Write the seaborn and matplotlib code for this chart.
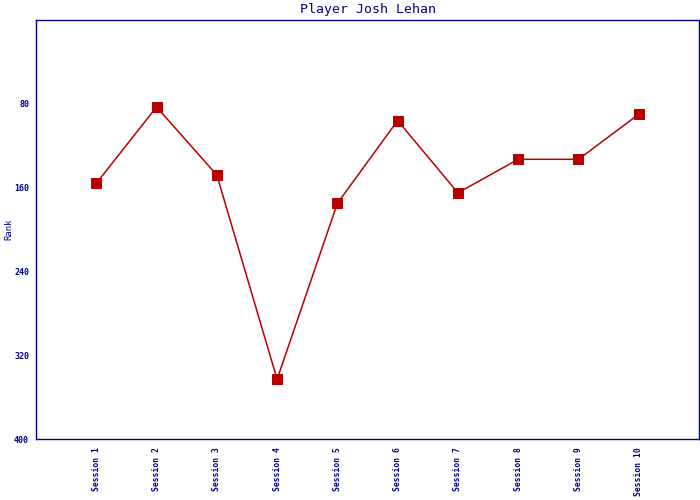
import matplotlib
matplotlib.use("Agg")
import matplotlib.pyplot as plt
import seaborn as sns
import pandas as pd

sessions = ["Session 1", "Session 2", "Session 3", "Session 4", "Session 5",
            "Session 6", "Session 7", "Session 8", "Session 9", "Session 10"]
ranks = [156, 83, 148, 343, 175, 96, 165, 133, 133, 90]
yticks = [80, 160, 240, 320, 400]

sns.set_style("white")
plt.rcParams['font.family'] = ['DejaVu Sans Mono', 'DejaVu Sans']
navy = "#00008B"
red = "#B80000"

df = pd.DataFrame({"pos": list(range(1, len(sessions) + 1)), "rank": ranks})

fig = plt.figure(figsize=(7, 5), dpi=100)
ax = fig.add_axes([36/700, 61/500, 663/700, 419/500])
sns.lineplot(data=df, x="pos", y="rank", ax=ax, color=red, linewidth=1.1,
             marker="s", markersize=6.5, markeredgecolor=red, markerfacecolor=red)

ax.set_xlim(0, len(sessions) + 1)
ax.set_ylim(400, 0)
ax.set_yticks(yticks)
ax.set_yticklabels([str(t) for t in yticks], color=navy, fontsize=6, fontweight="bold")
ax.set_xticks(df["pos"])
ax.set_xticklabels(sessions, rotation=90, color=navy, fontsize=5.8, fontweight="bold")
ax.tick_params(axis="y", direction="out", length=3, width=1, color=navy, pad=2)
ax.tick_params(axis="x", length=0, pad=6)
ax.set_xlabel("")
ax.set_ylabel("Rank", color=navy, fontsize=6.5)
ax.yaxis.set_label_coords(-0.034, 0.5)
ax.set_title("Player Josh Lehan", color=navy, fontsize=9.5, pad=5)
for s in ax.spines.values():
    s.set_color(navy)
    s.set_linewidth(1)
    s.set_visible(True)

fig.savefig("out.png", dpi=100)
